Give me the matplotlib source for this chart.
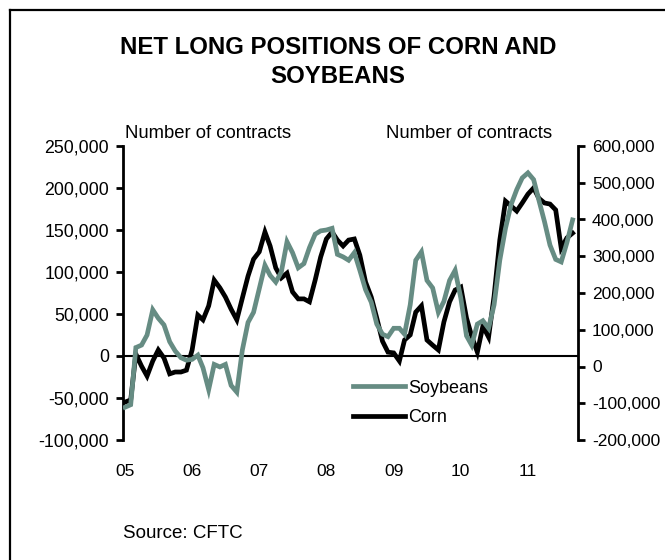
import matplotlib
matplotlib.use("Agg")
import matplotlib.pyplot as plt
import matplotlib.dates as mdates
from matplotlib.lines import Line2D
from matplotlib.ticker import FuncFormatter
import pandas as pd

plt.rcParams["font.family"] = ["Liberation Sans", "DejaVu Sans"]

# monthly net long positions, Jan 2005 - Sep 2011 (thousand contracts)
months = pd.date_range("2005-01-01", periods=81, freq="MS")

soybeans = [
    -61, -58, 10, 13, 25, 55, 45, 37, 17, 6, -2, -5,
    -4, 1, -14, -40, -10, -13, -10, -35, -43, 7, 40, 52,
    80, 108, 96, 88, 100, 136, 123, 105, 110, 129, 145, 149,
    150, 152, 121, 118, 114, 123, 102, 79, 64, 38, 26, 23,
    33, 33, 26, 61, 114, 124, 90, 81, 52, 65, 90, 102,
    69, 24, 13, 38, 42, 33, 61, 114, 152, 180, 198, 212,
    218, 210, 186, 160, 132, 115, 112, 135, 162,
]

corn = [
    -97, -91, 34, 1, -26, 15, 45, 23, -20, -15, -15, -10,
    45, 140, 127, 165, 235, 214, 189, 156, 127, 186, 246, 292,
    312, 366, 328, 268, 241, 254, 203, 184, 184, 176, 235, 298,
    347, 366, 344, 328, 344, 347, 303, 230, 189, 132, 69, 39,
    37, 15, 72, 86, 148, 165, 72, 58, 45, 121, 176, 208,
    216, 132, 83, 39, 110, 80, 192, 344, 450, 437, 423, 445,
    469, 486, 458, 445, 442, 426, 322, 350, 363,
]

year_labels = ["05", "06", "07", "08", "09", "10", "11"]
left_ticks = [250000, 200000, 150000, 100000, 50000, 0, -50000, -100000]
right_ticks = [600000, 500000, 400000, 300000, 200000, 100000, 0, -100000, -200000]

soy_color = "#668c83"
lw = 3.4

fig = plt.figure(figsize=(6.65, 5.6), dpi=100)
ax = fig.add_axes([123 / 665, 1 - 440 / 560, 455 / 665, 294 / 560])
ax2 = ax.twinx()

ax.plot(months, [v * 1000 for v in soybeans], color=soy_color, lw=lw,
        solid_joinstyle="miter", zorder=3)
ax2.plot(months, [v * 1000 for v in corn], color="black", lw=lw,
         solid_joinstyle="miter", zorder=4)
ax.axhline(0, color="black", lw=1.5, zorder=2)

day = 365.25 / 67.17
x0 = mdates.date2num(pd.Timestamp("2005-01-01")) - 2 * day
ax.set_xlim(x0, x0 + 455 * day)

ax.set_ylim(-100000, 250000)
ax2.set_ylim(-200000, 600000)
ax.set_yticks(left_ticks)
ax2.set_yticks(right_ticks)
fmt = FuncFormatter(lambda v, p: f"{int(v):,}")
ax.yaxis.set_major_formatter(fmt)
ax2.yaxis.set_major_formatter(fmt)

ax.set_xticks([pd.Timestamp(f"20{y}-01-01") for y in year_labels])
ax.set_xticklabels(year_labels)
ax.tick_params(axis="x", length=0, pad=17, labelsize=12.5)
ax.tick_params(axis="y", direction="out", length=5, width=2, labelsize=12.8, pad=5)
ax2.tick_params(axis="y", direction="out", length=5, width=2, labelsize=12.5, pad=5)

for a in (ax, ax2):
    for s in ("top", "bottom"):
        a.spines[s].set_visible(False)
ax.spines["right"].set_visible(False)
ax2.spines["left"].set_visible(False)
ax.spines["left"].set_linewidth(2)
ax2.spines["right"].set_linewidth(2)

ax.set_zorder(ax2.get_zorder() + 1)
ax.patch.set_visible(False)

handles = [Line2D([], [], color=soy_color, lw=lw),
           Line2D([], [], color="black", lw=lw)]
ax.legend(handles, ["Soybeans", "Corn"], loc="upper left",
          bbox_to_anchor=(0.505, 0.205), frameon=False, fontsize=13,
          handlelength=2.9, handletextpad=0.15, labelspacing=0.7,
          borderpad=0, borderaxespad=0)

fig.text(338 / 665, 1 - 62 / 560, "NET LONG POSITIONS OF CORN AND\nSOYBEANS",
         ha="center", va="center", fontsize=17.3, fontweight="bold",
         linespacing=1.3)
fig.text(125 / 665, 1 - 133 / 560, "Number of contracts", ha="left",
         va="center", fontsize=13.3)
fig.text(386 / 665, 1 - 133 / 560, "Number of contracts", ha="left",
         va="center", fontsize=13.3)
fig.text(123 / 665, 1 - 533 / 560, "Source: CFTC", ha="left", va="center",
         fontsize=13.5)

# outer frame (left and top edges)
fig.add_artist(Line2D([9.5 / 665, 9.5 / 665], [0, 1 - 9.5 / 560],
                      color="black", lw=1.6, transform=fig.transFigure))
fig.add_artist(Line2D([9.5 / 665, 1], [1 - 9.5 / 560, 1 - 9.5 / 560],
                      color="black", lw=1.6, transform=fig.transFigure))

fig.savefig("out.png", dpi=100)
